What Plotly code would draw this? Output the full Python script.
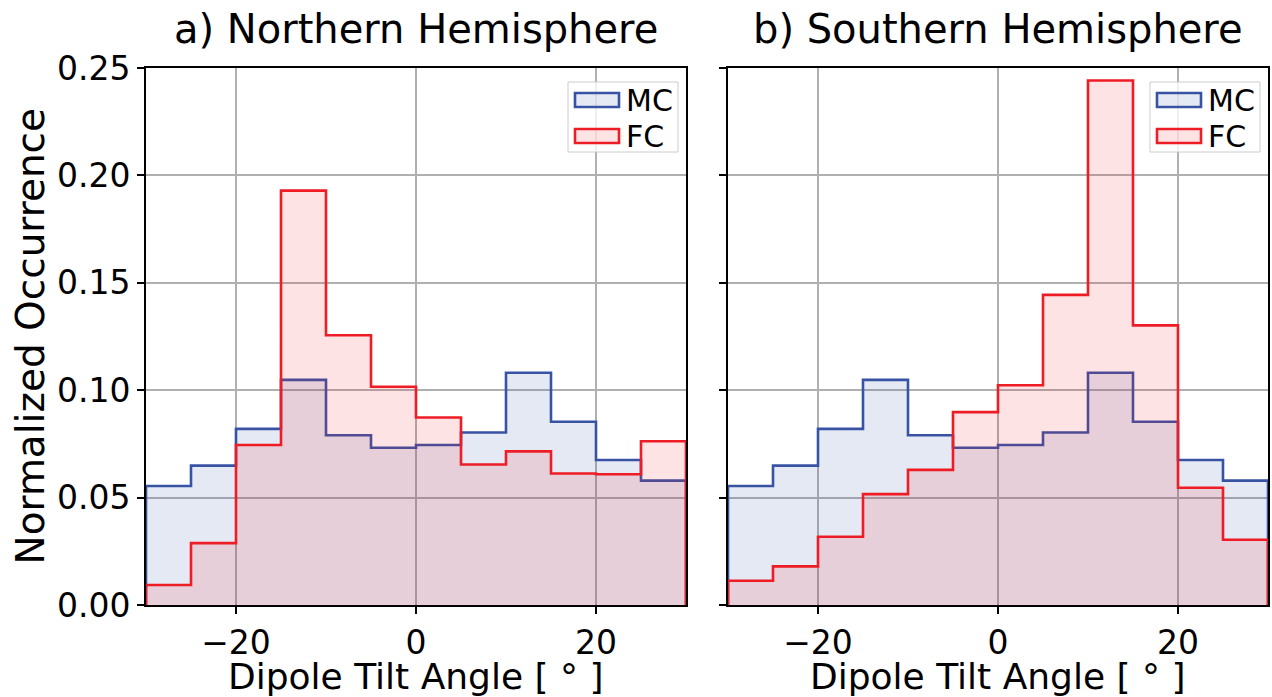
import plotly.graph_objects as go

bin_edges = [-30, -25, -20, -15, -10, -5, 0, 5, 10, 15, 20, 25, 30]
mc_north = [0.0554, 0.0649, 0.0820, 0.1048, 0.0790, 0.0732, 0.0745, 0.0803, 0.1081, 0.0853, 0.0675, 0.0579]
fc_north = [0.0093, 0.0288, 0.0745, 0.1929, 0.1256, 0.1016, 0.0873, 0.0654, 0.0715, 0.0612, 0.0609, 0.0762]
mc_south = [0.0554, 0.0649, 0.0820, 0.1048, 0.0790, 0.0732, 0.0745, 0.0803, 0.1081, 0.0853, 0.0675, 0.0579]
fc_south = [0.0113, 0.0180, 0.0318, 0.0516, 0.0629, 0.0898, 0.1023, 0.1444, 0.2442, 0.1302, 0.0546, 0.0304]
series_names = ["MC", "FC"]
panel_titles = ["a) Northern Hemisphere", "b) Southern Hemisphere"]
x_label = "Dipole Tilt Angle [ ° ]"
y_label = "Normalized Occurrence"
y_ticks = [0.0, 0.05, 0.10, 0.15, 0.20, 0.25]
y_ticktext = ["0.00", "0.05", "0.10", "0.15", "0.20", "0.25"]
x_ticks = [-20, 0, 20]
x_ticktext = ["\u221220", "0", "20"]

LINE_COLORS = ["#3953a4", "#ee1c25"]
FILL_COLORS = ["rgba(57,83,164,0.13)", "rgba(238,28,37,0.12)"]
FONT = "DejaVu Sans"


def step_xy(edges, vals):
    xs = [edges[0]] + list(edges) + [edges[-1]]
    ys = [0] + list(vals) + [vals[-1], 0]
    return xs, ys


fig = go.Figure()

panels = [((mc_north, fc_north), "x", "y"), ((mc_south, fc_south), "x2", "y2")]
for series, xa, ya in panels:
    for name, vals, lc, fcol in zip(series_names, series, LINE_COLORS, FILL_COLORS):
        xs, ys = step_xy(bin_edges, vals)
        fig.add_trace(go.Scatter(
            x=xs, y=ys, mode="lines", name=name, showlegend=False,
            line=dict(color=lc, width=2.6, shape="hv"),
            fill="tozeroy", fillcolor=fcol,
            xaxis=xa, yaxis=ya, hoverinfo="skip",
        ))

x_dom1 = [0, 540 / 1122]
x_dom2 = [582 / 1122, 1]

axis_common = dict(
    showline=True, linecolor="black", linewidth=2, mirror=True,
    ticks="outside", ticklen=7, tickwidth=1.6, tickcolor="black",
    showgrid=True, gridcolor="#b0b0b0", gridwidth=1.6,
    zeroline=False, automargin=False,
    tickfont=dict(family=FONT, size=33, color="black"),
)

fig.update_layout(
    width=1272, height=697,
    margin=dict(l=146, r=4, t=68, b=92),
    plot_bgcolor="white", paper_bgcolor="white",
    font=dict(family=FONT, color="black"),
    showlegend=False,
    xaxis=dict(domain=x_dom1, range=[-30, 30], tickvals=x_ticks, ticktext=x_ticktext, **axis_common),
    yaxis=dict(range=[0, 0.25], tickvals=y_ticks, ticktext=y_ticktext, anchor="x", **axis_common),
    xaxis2=dict(domain=x_dom2, range=[-30, 30], tickvals=x_ticks, ticktext=x_ticktext, anchor="y2", **axis_common),
    yaxis2=dict(range=[0, 0.25], tickvals=y_ticks, ticktext=y_ticktext, anchor="x2",
                showticklabels=False, **axis_common),
)

# titles and axis labels
for title, xa in zip(panel_titles, ["x", "x2"]):
    fig.add_annotation(text=title, xref=f"{xa} domain", yref="paper",
                       x=0.5, xanchor="center", y=1, yshift=39, yanchor="middle",
                       showarrow=False, font=dict(family=FONT, size=40, color="black"))
    fig.add_annotation(text=x_label, xref=f"{xa} domain", yref="paper",
                       x=0.5, xanchor="center", y=0, yshift=-71, yanchor="middle",
                       showarrow=False, font=dict(family=FONT, size=36, color="black"))

fig.add_annotation(text=y_label, xref="paper", yref="paper", x=0, xshift=-116, xanchor="center",
                   y=0.5, yanchor="middle", textangle=-90, showarrow=False,
                   font=dict(family=FONT, size=39, color="black"))

# legends (one per panel), drawn as boxed patches like the original
for xa, ya in [("x", "y"), ("x2", "y2")]:
    fig.add_shape(type="rect", xref=f"{xa} domain", yref=f"{ya} domain",
                  xsizemode="pixel", ysizemode="pixel", xanchor=1, yanchor=1,
                  x0=-118, x1=-8, y0=-84, y1=-14,
                  fillcolor="rgba(255,255,255,0.8)", line=dict(color="#cccccc", width=1), layer="above")
    for i, (name, lc, fcol) in enumerate(zip(series_names, LINE_COLORS, FILL_COLORS)):
        top = -25 - 36 * i
        fig.add_shape(type="rect", xref=f"{xa} domain", yref=f"{ya} domain",
                      xsizemode="pixel", ysizemode="pixel", xanchor=1, yanchor=1,
                      x0=-111, x1=-67, y0=top - 14, y1=top,
                      fillcolor=fcol, line=dict(color=lc, width=2.6), layer="above")
        fig.add_annotation(text=name, xref=f"{xa} domain", yref=f"{ya} domain",
                           x=1, xshift=-62, xanchor="left", y=1, yshift=top - 7, yanchor="middle",
                           showarrow=False, font=dict(family=FONT, size=30, color="black"))

fig.write_html(
    "out.html",
    config={"displayModeBar": False},
    post_script="document.body.style.margin='0';document.body.style.overflow='hidden';",
)
